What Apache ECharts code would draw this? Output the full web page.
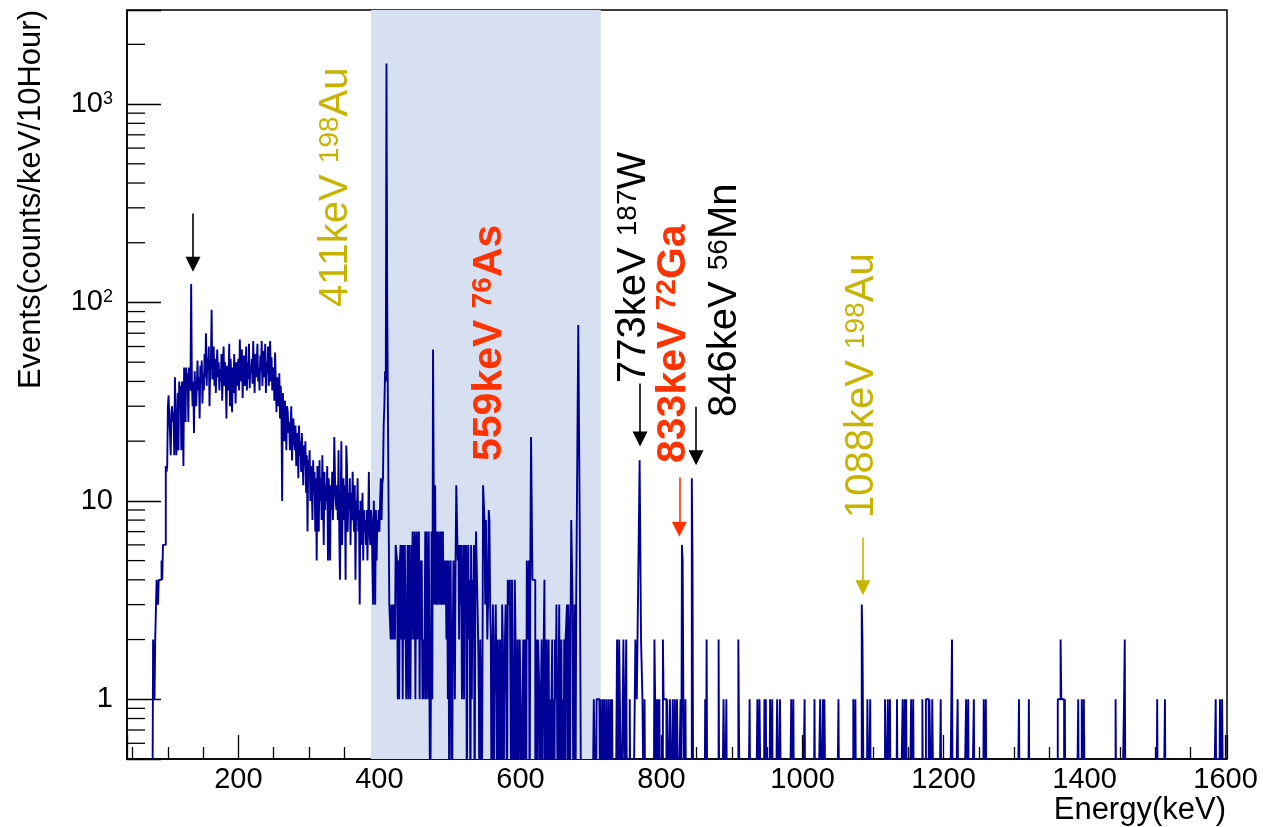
<!DOCTYPE html>
<html>
<head>
<meta charset="utf-8">
<title>Energy spectrum</title>
<script src="https://cdn.jsdelivr.net/npm/echarts@6/dist/echarts.min.js"></script>
<style>
  html, body { margin: 0; padding: 0; background: #fff; }
  #chart { width: 1263px; height: 827px; }
</style>
</head>
<body>
<div id="chart"></div>
<script>
// counts in 1 keV bins, starting at denseStart keV
const denseStart = 70;
const denseCounts = [
  0,0,0,0,0,0,0,0,0,2,  2,1,2,2,4,4,3,4,4,4,          // 70
  4,5,4,6,6,6,6,15,14,15,  30,34,26,22,17,28,30,25,28,17,   // 90
  42,28,17,20,35,18,40,31,38,18,  40,33,15,47,38,25,47,40,44,25,  // 110
  47,38,36,124,40,30,40,22,45,34,  30,38,51,36,42,26,48,40,51,31, // 130
  44,36,55,42,70,38,52,48,60,30,  46,50,92,41,44,60,38,52,35,47,  // 150
  58,42,50,36,46,40,55,32,44,60,  38,50,42,26,48,36,44,62,30,52,  // 170
  40,28,47,35,55,43,31,50,38,46,  52,36,65,44,40,58,33,47,54,38,  // 190
  45,60,36,50,41,62,37,48,44,52,  39,64,46,35,55,42,50,62,40,47,  // 210
  36,54,45,64,38,48,57,42,62,35,  50,44,60,38,48,64,40,53,36,47,  // 230
  45,32,56,40,28,42,36,30,44,26,  38,30,10,35,28,20,32,26,18,30,  // 250
  28,22,25,18,24,30,16,22,26,20,  18,24,15,22,19,13,24,17,20,14,  // 270
  22,16,12,19,15,20,11,17,7,16,  14,18,10,15,12,8,16,11,14,7,     // 290
  13,5,15,11,7,16,10,13,8,17,  11,6,14,9,12,10,15,5,13,11,        // 310
  5,12,9,14,8,11,21,13,10,9,  12,8,18,7,4,9,20,6,10,13,           // 330
  8,12,4,19,15,7,11,9,13,6,  11,8,14,9,7,12,4,10,8,13,            // 350
  7,9,3,10,6,8,11,5,9,7,  8,6,9,5,8,14,7,6,9,8,                   // 370
  8,3,10,6,3,9,5,8,7,9,  7,10,13,8,12,13,24,30,45,40,             // 390
  1600,100,100,9,3,3,2,3,2,3,  2,3,2,6,6,5,1,5,1,5,              // 410
  6,2,6,1,6,2,6,6,1,2,  6,1,6,2,1,6,2,7,5,2,                      // 430
  7,1,5,7,2,5,7,1,5,2,  5,1,2,1,2,7,1,7,7,1,                      // 450
  7,1,0,0,7,1,58,12,3,12,  3,7,3,7,7,3,7,3,7,3,                   // 470
  7,3,5,3,5,2,5,1,5,0,  3,5,1,0,2,5,3,1,5,12,                     // 490
  12,5,6,2,6,3,6,1,2,6,  1,6,3,6,0,4,6,2,4,0,                     // 510
  6,1,4,2,6,0,4,7,7,7,  2,1,0,2,1,0,1,12,12,8,                    // 530
  3,8,8,2,3,9,8,3,2,0,  1,3,0,1,2,3,1,0,2,1,                      // 550
  0,2,1,0,3,2,0,1,2,3,  1,0,4,4,3,4,4,0,4,4,                      // 570
  4,0,4,2,0,1,2,0,1,2,  1,0,0,1,2,0,2,1,0,5,                      // 590
  5,2,5,0,5,21,21,4,4,4,  4,0,1,2,0,2,2,1,0,1,                    // 610
  2,0,1,2,4,0,1,2,0,1,  2,0,1,0,1,2,0,1,0,2,                      // 630
  1,3,3,0,1,3,0,0,2,0,  1,0,2,0,2,2,3,0,3,2,                      // 650
  0,2,8,8,3,0,1,3,0,3,  3,3,77,77,8,8,0,0,0,0,                    // 670
  0,0,0,0,0,0,0,0,0,0,  0,0,0,0,1,1,1,0,1,1,                      // 690
  1,1,1,0,1,1,0,1,0,1                                             // 710
];

// isolated filled bins above 720 keV (all other bins are empty)
const sparseEnergies = [
  720,722,723,725,726,728,730, 737,738,740,741,742, 746,747,749,750, 755,
  763,764,765,766,767,768,769,770,771,772,773,774,776,
  790,791,793,795,797, 802,803,804,805,806,808,809,810,812,813,
  816,817,819,820,822,823, 827, 829,830,831,832, 834, 843,844,
  862,864, 881, 888,889,892, 909,910, 925, 936,939,940, 946,948, 954,957,
  964,965,968,969, 984,985,987, 1003, 1017,
  1025,1026,1027,1029,1031,1032, 1051, 1072,1073,1075, 1084,1085,1086,
  1092,1093,1096, 1117,1118,1119,1121,1122,1124, 1134, 1142,1143,1145,1147,
  1154,1155,1157, 1170, 1175,1176,1177,1178,1180,1181,1182,1184,1185,
  1196, 1212, 1220, 1232,1233,1235, 1243, 1257,1258,1260, 1307, 1321,
  1362,1363,1364,1365,1366,1367,1368,1369,1370,1372, 1391, 1396,1397,1399,
  1444, 1456,1457, 1503, 1514, 1586, 1592,1593,1595,1596
];
const sparseCounts = [
  1,1,1,1,1,1,1, 2,1,2,1,1, 2,2,1,2, 1,
  2,2,1,2,2,2,16,16,2,2,1,1,1,
  2,1,1,1,1, 2,1,1,1,1,1,1,1,1,1,
  1,1,1,1,1,1, 1, 6,5,1,1, 1, 13,5,
  1,2, 2, 1,1,1, 2,2, 1, 1,1,1, 1,1, 1,1,
  1,1,1,1, 1,1,1, 1, 1,
  1,1,1,1,1,1, 1, 1,1,1, 3,2,2,
  1,1,1, 1,1,1,1,1,1, 1, 1,1,1,1,
  1,1,1, 1, 1,1,1,1,1,1,1,1,1,
  1, 2, 1, 1,1,1, 1, 1,1,1, 1, 1,
  1,1,1,1,2,1,1,1,1,1, 1, 1,1,1,
  1, 1,2, 1, 1, 1, 1,1,1,1
];
const histEnd = 1600;

// shaded region (keV)
const bandStart = 388;
const bandEnd = 714;

// arrows: energy, tail height, head centre height (counts)
const arrowEnergies = [135.6, 769.6, 849, 825.3, 1085.6];
const arrowTails = [281, 39, 29.8, 13.1, 6.54];
const arrowHeads = [156, 20.5, 16.5, 7.2, 3.65];
const arrowColors = ['#000000', '#000000', '#000000', '#ff3300', '#c8b400'];

// peak labels
const peakTexts = ['411keV ', '559keV ', '773keV ', '833keV ', '846keV ', '1088keV '];
const peakMass = ['198', '76', '187', '72', '56', '198'];
const peakElem = ['Au', 'As', 'W', 'Ga', 'Mn', 'Au'];
const peakColors = ['#c8b400', '#ff3300', '#000000', '#ff3300', '#000000', '#c8b400'];
const peakBold = [false, true, false, true, false, false];

const xTickValues = [200, 400, 600, 800, 1000, 1200, 1400, 1600];
const yTickValues = [1, 10, 100, 1000];
const yTickText = ['{b|1}', '{b|10}', '{b|10}{s|2}', '{b|10}{s|3}'];

const FONT = '"Liberation Sans", Arial, Helvetica, sans-serif';

// build the histogram steps
const sparseMap = {};
sparseEnergies.forEach((e, i) => { sparseMap[e] = sparseCounts[i]; });
const hist = [];
for (let e = denseStart; e <= histEnd; e++) {
  const c = e < denseStart + denseCounts.length ? denseCounts[e - denseStart] : (sparseMap[e] || 0);
  hist.push([e, c > 0 ? c : 0.2]);
}
hist.push([histEnd + 1, 0.2]);

// minor ticks on the log axis
const yMinor = [];
[0.1, 1, 10, 100, 1000].forEach(d => {
  for (let k = 2; k <= 9; k++) {
    const v = k * d;
    if (v > 0.5 && v < 2980) yMinor.push([42, v]);
  }
});

const chart = echarts.init(document.getElementById('chart'), null, { renderer: 'canvas' });

// rotated peak labels
const labelPos = [[336, 307], [490, 461], [634, 383], [674, 463], [725, 417], [862, 518]];
const graphics = peakTexts.map((t, i) => {
  const w = peakBold[i] ? 'bold ' : '';
  const size = peakBold[i] ? 41 : 40;
  return {
    type: 'text',
    x: labelPos[i][0],
    y: labelPos[i][1],
    rotation: Math.PI / 2,
    silent: true,
    z: 10,
    style: {
      text: t + '{s|' + peakMass[i] + '}' + peakElem[i],
      font: w + size + 'px ' + FONT,
      fill: peakColors[i],
      align: 'left', textAlign: 'left',
      verticalAlign: 'middle', textVerticalAlign: 'middle',
      rich: { s: { font: w + '28px ' + FONT, fill: peakColors[i], verticalAlign: 'top' } }
    }
  };
});
// axis titles
graphics.push({
  type: 'text', x: 31, y: 10, rotation: Math.PI / 2, silent: true,
  style: {
    text: 'Events(counts/keV/10Hour)', font: '31px ' + FONT, fill: '#000',
    align: 'right', textAlign: 'right', verticalAlign: 'middle', textVerticalAlign: 'middle'
  }
});
graphics.push({
  type: 'text', x: 1226, y: 810, silent: true,
  style: {
    text: 'Energy(keV)', font: '31px ' + FONT, fill: '#000',
    align: 'right', textAlign: 'right', verticalAlign: 'middle', textVerticalAlign: 'middle'
  }
});

const option = {
  animation: false,
  backgroundColor: '#fff',
  grid: {
    left: 127, top: 10, right: 36, bottom: 68,
    show: true, borderColor: '#000', borderWidth: 1.5, backgroundColor: 'transparent'
  },
  xAxis: {
    type: 'value',
    min: 42,
    max: 1602,
    splitNumber: 8,
    axisLine: { lineStyle: { color: '#000', width: 1.5 } },
    axisTick: { inside: true, length: 24, lineStyle: { color: '#000', width: 1.3 } },
    minorTick: { show: true, splitNumber: 4, length: 12, lineStyle: { color: '#000', width: 1.3 } },
    splitLine: { show: false },
    axisLabel: {
      color: '#000', fontSize: 29, fontFamily: FONT, margin: 6,
      formatter: v => (xTickValues.indexOf(Math.round(v)) >= 0 && Math.abs(v - Math.round(v)) < 1e-6) ? String(Math.round(v)) : ''
    }
  },
  yAxis: {
    type: 'log',
    logBase: 10,
    min: 0.5,
    max: 2980,
    axisLine: { lineStyle: { color: '#000', width: 1.5 } },
    axisTick: { inside: true, length: 34, lineStyle: { color: '#000', width: 1.3 } },
    splitLine: { show: false },
    axisLabel: {
      color: '#000', fontSize: 29, fontFamily: FONT, margin: 14,
      formatter: v => {
        for (let i = 0; i < yTickValues.length; i++) {
          if (Math.abs(v - yTickValues[i]) < 1e-6 * yTickValues[i]) return yTickText[i];
        }
        return '';
      },
      rich: {
        b: { fontSize: 29, fontFamily: FONT, color: '#000' },
        s: { fontSize: 18, fontFamily: FONT, color: '#000', verticalAlign: 'top' }
      }
    }
  },
  series: [
    {
      // shaded band
      type: 'line',
      data: [[bandStart, 1]],
      symbol: 'none',
      silent: true,
      z: 1,
      lineStyle: { width: 0 },
      markArea: {
        silent: true,
        itemStyle: { color: '#d7e0f1' },
        data: [[{ xAxis: bandStart }, { xAxis: bandEnd }]]
      }
    },
    {
      type: 'line',
      data: hist,
      step: 'end',
      symbol: 'none',
      clip: true,
      silent: true,
      z: 3,
      lineStyle: { color: '#000096', width: 1.9 },
      markLine: {
        silent: true,
        symbol: ['none', 'triangle'],
        symbolSize: 15,
        label: { show: false },
        data: arrowEnergies.map((e, i) => [
          { coord: [e, arrowTails[i]], lineStyle: { color: arrowColors[i], width: 1.6, type: 'solid' }, itemStyle: { color: arrowColors[i] } },
          { coord: [e, arrowHeads[i]] }
        ])
      }
    },
    {
      // minor ticks of the log axis
      type: 'custom',
      data: yMinor,
      silent: true,
      clip: false,
      z: 5,
      renderItem: (params, api) => {
        const p = api.coord([api.value(0), api.value(1)]);
        return {
          type: 'line',
          shape: { x1: p[0], y1: p[1], x2: p[0] + 18, y2: p[1] },
          style: { stroke: '#000', lineWidth: 1.3 }
        };
      }
    }
  ],
  graphic: graphics
};

chart.setOption(option);
</script>
</body>
</html>
